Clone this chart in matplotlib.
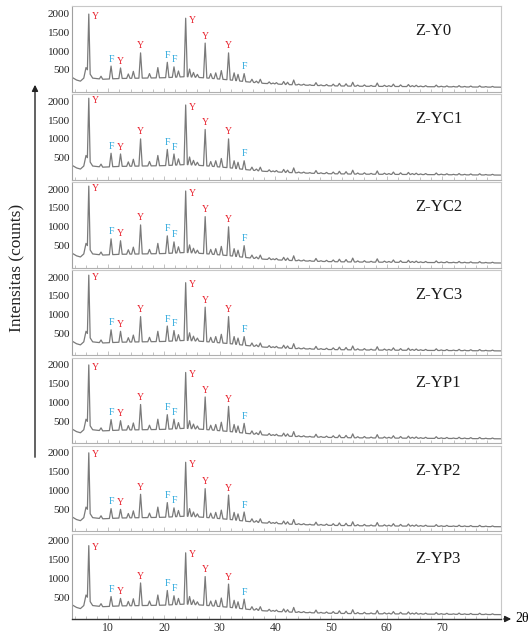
import numpy as np
import matplotlib
matplotlib.use('Agg')
import matplotlib.pyplot as plt

plt.rcParams['font.family'] = ['Liberation Serif', 'DejaVu Serif']

# ---------------------------
# data
# ---------------------------
samples = ['Z-Y0', 'Z-YC1', 'Z-YC2', 'Z-YC3', 'Z-YP1', 'Z-YP2', 'Z-YP3']

# labelled reflections (2theta) and phase marks (Y / F)
main_pos = [6.5, 10.5, 12.2, 15.8, 20.6, 21.8, 23.9, 27.4, 31.6, 34.4]
main_phase = ['Y', 'F', 'Y', 'Y', 'F', 'F', 'Y', 'Y', 'Y', 'F']
main_width = [0.25, 0.3, 0.3, 0.3, 0.3, 0.3, 0.3, 0.3, 0.3, 0.3]

# peak tops (counts) of the labelled reflections, one list per sample
counts_y0 = [1980, 600, 550, 950, 700, 580, 1870, 1210, 950, 400]
counts_yc1 = [2080, 620, 600, 1000, 720, 600, 1900, 1250, 1000, 420]
counts_yc2 = [2080, 680, 630, 1050, 760, 600, 1950, 1270, 1000, 500]
counts_yc3 = [2050, 600, 560, 950, 700, 580, 1850, 1200, 950, 420]
counts_yp1 = [2000, 550, 520, 950, 680, 560, 1800, 1150, 900, 450]
counts_yp2 = [2000, 520, 500, 900, 680, 540, 1750, 1050, 880, 430]
counts_yp3 = [1870, 520, 470, 880, 680, 540, 1680, 1050, 850, 450]
main_counts = [counts_y0, counts_yc1, counts_yc2, counts_yc3,
               counts_yp1, counts_yp2, counts_yp3]

# small unlabelled reflections (same in all samples)
minor_pos = [8.7, 13.6, 14.5, 17.4, 18.9, 22.6, 24.6, 25.3, 26.0, 28.4,
             29.3, 30.3, 32.6, 33.3, 35.8, 36.6, 37.3, 38.9, 39.6, 40.2, 41.5,
             42.2, 43.3, 44.2, 45.1, 46.2, 47.3, 48.2, 49.2, 50.4, 51.5, 52.7,
             53.9, 54.8, 56.0, 57.2, 58.3, 59.6, 60.4, 61.2, 62.5, 63.9, 64.6,
             65.3, 66.1, 67.0, 68.9, 69.8, 70.8, 72.0, 73.0, 74.0, 75.1, 76.7,
             77.8, 79.0]
minor_counts = [330, 390, 460, 400, 560, 470, 520, 430, 380, 400,
                420, 480, 420, 380, 250, 200, 250, 180, 150, 160, 190,
                170, 230, 120, 120, 105, 160, 100, 110, 120, 140, 130,
                170, 95, 100, 85, 150, 90, 80, 120, 100, 110, 80,
                90, 70, 80, 95, 65, 75, 60, 80, 60, 70, 75,
                55, 60]
minor_width = 0.3

# background
bg_pos = [3.5, 4.3, 5.0, 5.6, 6.0, 7.2, 9.0, 12.0, 16.0, 20.0, 24.0, 28.0,
          32.0, 35.0, 38.0, 42.0, 46.0, 50.0, 55.0, 60.0, 65.0, 70.0, 75.0,
          80.5]
bg_counts = [300, 230, 200, 280, 560, 280, 250, 270, 280, 290, 320, 280,
             230, 180, 140, 110, 90, 75, 65, 60, 55, 50, 45, 40]

xticks = [10, 20, 30, 40, 50, 60, 70]
yticks = [500, 1000, 1500, 2000]

phase_color = {'Y': '#e8202c', 'F': '#27a6dc'}


def build_pattern(tops):
    pk_x = main_pos + minor_pos
    pk_y = tops + minor_counts
    pk_w = main_width + [minor_width] * len(minor_pos)
    pts = [(b, c) for b, c in zip(bg_pos, bg_counts)
           if all(abs(b - p) > w for p, w in zip(pk_x, pk_w))]
    for p, h, w in zip(pk_x, pk_y, pk_w):
        pts.append((p - w, np.interp(p - w, bg_pos, bg_counts)))
        pts.append((p, h))
        pts.append((p + w, np.interp(p + w, bg_pos, bg_counts)))
    pts.sort(key=lambda t: t[0])
    return [t[0] for t in pts], [t[1] for t in pts]


fig, axes = plt.subplots(7, 1, figsize=(5.3, 6.35), dpi=100, sharex=True)
fig.subplots_adjust(left=0.136, right=0.945, top=0.99, bottom=0.025, hspace=0.03)

for i, ax in enumerate(axes):
    x, y = build_pattern(main_counts[i])
    ax.plot(x, y, color='#7a7a7a', lw=0.9)
    for p, h, ph in zip(main_pos, main_counts[i], main_phase):
        if h > 1500:
            off = (5, -1.5)
        else:
            off = (0, 5)
        ax.annotate(ph, (p, h), xytext=off, textcoords='offset points',
                    ha='center', va='center', fontsize=7, color=phase_color[ph])
    ax.text(0.80, 0.71, samples[i], transform=ax.transAxes, fontsize=12,
            ha='left', va='center', color='#1a1a1a')
    ax.set_xlim(3.5, 80.5)
    ax.set_ylim(-80, 2185)
    ax.set_yticks(yticks)
    ax.set_yticklabels([str(v) for v in yticks], fontsize=8, color='#222222')
    ax.tick_params(axis='y', length=0, pad=1.5)
    ax.set_xticks(xticks)
    ax.set_xticks(np.arange(4, 80, 2), minor=True)
    ax.tick_params(axis='x', which='both', direction='in', color='#b8b8b8',
                   length=2, width=0.6, labelsize=8.5)
    ax.tick_params(axis='x', which='major', length=3)
    for side in ['top', 'right']:
        ax.spines[side].set_color('#c8c8c8')
        ax.spines[side].set_linewidth(0.8)
    ax.spines['left'].set_color('#a0a0a0')
    ax.spines['bottom'].set_color('#b0b0b0')
    ax.spines['left'].set_linewidth(0.8)
    ax.spines['bottom'].set_linewidth(0.8)

bottom = axes[-1]
bottom.spines['bottom'].set_color('#333333')
bottom.spines['bottom'].set_linewidth(1.0)
bottom.tick_params(axis='x', which='both', labelcolor='#333333', pad=2)

# axis arrows and titles
fig.patches.append(matplotlib.patches.FancyArrowPatch(
    (501 / 530, 1 - 619 / 635), (514 / 530, 1 - 619 / 635),
    transform=fig.transFigure, arrowstyle='-|>', mutation_scale=9,
    color='#222222', lw=1.0))
fig.text(515 / 530, 1 - 619 / 635, '2θ', fontsize=10, ha='left', va='center')

fig.patches.append(matplotlib.patches.FancyArrowPatch(
    (35 / 530, 1 - 460 / 635), (35 / 530, 1 - 82 / 635),
    transform=fig.transFigure, arrowstyle='-|>', mutation_scale=9,
    color='#222222', lw=1.0))
fig.text(17 / 530, 1 - 268 / 635, 'Intensitas (counts)', fontsize=12.5,
         rotation=90, ha='center', va='center', color='#222222')

plt.savefig('out.png', dpi=100)
